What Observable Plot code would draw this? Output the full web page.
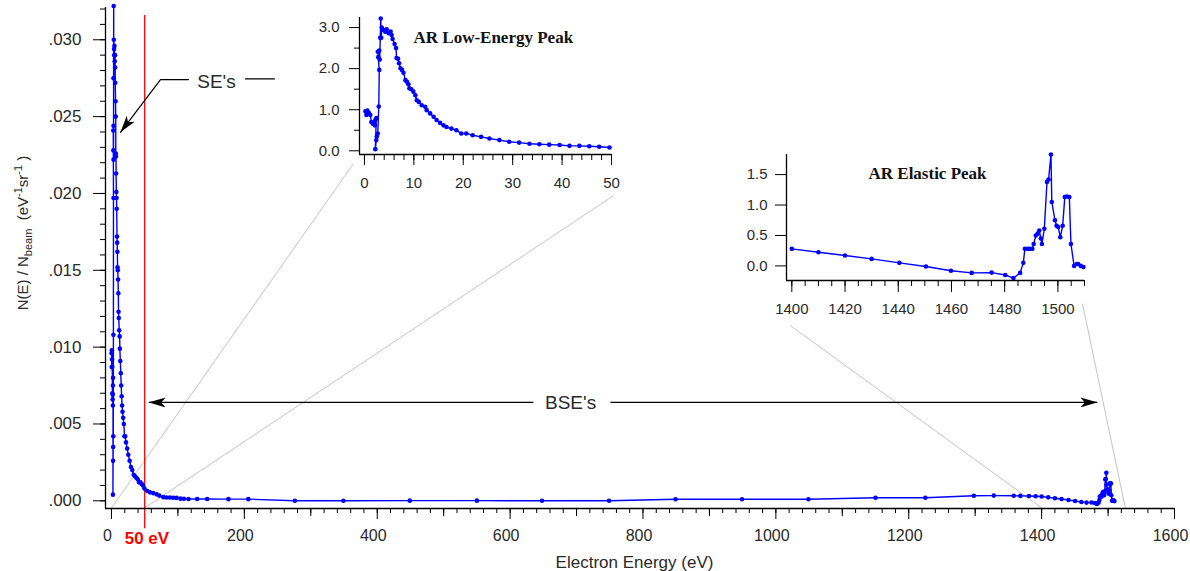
<!DOCTYPE html>
<html><head><meta charset="utf-8">
<script src="https://cdn.jsdelivr.net/npm/d3@7"></script>
<script src="https://cdn.jsdelivr.net/npm/@observablehq/plot@0.6"></script>
<style>
body{margin:0;background:#fff;}
#wrap{position:relative;width:1190px;height:571px;overflow:hidden;background:#fff;}
#wrap svg{position:absolute;}
</style></head><body><div id="wrap"></div>
<script>
// ---------- data ----------
// low-energy region (eV) and yield in units of 1e-2 eV^-1 sr^-1
const lowEnergy = [0.2,0.4,0.6,0.9,1.2,1.4,1.7,1.9,2.1,2.2,2.4,2.2,2.4,2.5,2.7,2.9,3.0,2.8,2.7,3.0,3.1,3.2,3.3,3.4,3.5,3.9,4.2,4.5,4.9,5.3,5.5,5.7,6.1,6.4,6.5,6.8,7.0,7.3,7.6,7.9,8.3,8.6,8.9,9.1,9.5,9.9,10.3,10.6,11.0,11.6,12.3,12.6,13.3,14.0,14.6,15.3,16.0,16.6,17.6,18.6,19.6,20.6,21.9,23.6,25.3,27.3,29.3,31.3,33.4,35.4,37.4,39.5,41.5,43.5,45.5,47.5,49.6];
const lowYield  = [0.96,0.87,0.98,0.92,0.87,0.70,0.66,0.69,0.62,0.75,0.80,0.04,0.26,0.35,0.42,1.08,1.97,2.28,2.41,2.44,2.22,2.75,3.22,2.75,3.00,2.94,2.90,2.96,2.86,2.90,2.82,2.72,2.60,2.50,2.26,2.24,2.13,2.01,1.97,1.90,1.72,1.68,1.62,1.52,1.50,1.44,1.35,1.23,1.19,1.11,1.07,0.99,0.91,0.83,0.75,0.68,0.62,0.58,0.54,0.50,0.42,0.42,0.38,0.34,0.30,0.26,0.22,0.20,0.17,0.16,0.15,0.14,0.12,0.12,0.11,0.10,0.08];
// backscattered region (eV) and yield in eV^-1 sr^-1
const bseEnergy = [54,58,63,68,72,78,83,88,93,98,104,109,116,129,144,176,206,276,349,449,550,648,749,849,949,1049,1150,1225,1298,1328,1358,1368,1381,1391];
const bseYield  = [0.00064,0.00055,0.00050,0.00042,0.00034,0.00024,0.00022,0.00022,0.00020,0.00019,0.00014,0.00013,0.00012,0.00012,0.00012,0.00011,0.00011,0.00000,0.00000,0.00001,0.00001,0.00000,0.00000,0.00010,0.00010,0.00010,0.00020,0.00020,0.00033,0.00034,0.00033,0.00032,0.00031,0.00030];
// elastic region (eV) and yield in units of 1e-3 eV^-1 sr^-1
const elasticEnergy = [1400,1410,1420,1430,1440.4,1450.4,1459.8,1467.6,1475.1,1480.2,1483.3,1485.8,1487,1487.6,1488.6,1489.5,1490.4,1490.9,1491.7,1492.4,1493,1493.6,1494,1494.9,1495.9,1496.5,1497.4,1497.7,1498.9,1499.5,1500.1,1500.9,1501.8,1502.6,1503.4,1504.3,1504.9,1506.1,1507.1,1507.6,1508.6,1509.6];
const elasticYield  = [0.28,0.225,0.17,0.115,0.05,-0.01,-0.08,-0.115,-0.11,-0.15,-0.2,-0.115,0.05,0.28,0.28,0.28,0.28,0.36,0.5,0.53,0.58,0.45,0.36,0.61,1.38,1.42,1.83,1.05,0.75,0.66,0.64,0.47,0.66,1.13,1.14,1.13,0.36,0.0,0.03,0.03,0.0,-0.02];

// ticks
const mainXMajor = [0,200,400,600,800,1000,1200,1400,1600];
const mainXMid = [100,300,500,700,900,1100,1300,1500];
const mainXMinor = d3.range(0, 1601, 20);
const mainYMajor = [0,0.005,0.010,0.015,0.020,0.025,0.030];
const mainYMinor = d3.range(0, 0.0325, 0.001);
const lowXMajor = [0,10,20,30,40,50];
const lowXMinor = d3.range(0, 51, 2);
const lowYMajor = [0,1,2,3];
const lowYMinor = [0.5,1.5,2.5];
const elXMajor = [1400,1420,1440,1460,1480,1500];
const elXMinor = d3.range(1400, 1511, 5);
const elYMajor = [0,0.5,1.0,1.5];

// texts and annotations
const xLabel = ["Electron Energy (eV)"];
const lowTitle = ["AR Low-Energy Peak"];
const elTitle = ["AR Elastic Peak"];
const cutoff = [{E: 50, lo: -0.00182, hi: 0.03158}];
const cutoffLabel = [{E: 53.4, N: -0.00247, t: "50 eV"}];
const seLabel = [{E: 158, N: 0.02723, t: "SE's"}];
const seArrow = [{E: 115.9, N: 0.02741}, {E: 73.8, N: 0.02741}, {E: 13.5, N: 0.02398}];
const seDash = [{E: 201.7, N: 0.02745}, {E: 245.3, N: 0.02745}];
const bseLabel = [{E: 691, N: 0.0064, t: "BSE's"}];
const bseArrows = [{x1: 635, x2: 56, y: 0.0064}, {x1: 751, x2: 1484, y: 0.0064}];
const zoomLines = [
  {x1: 0, y1: -0.00046, x2: 364.2, y2: 0.02194},
  {x1: 50, y1: -0.00046, x2: 755.6, y2: 0.019857},
  {x1: 1400, y1: -0.00046, x2: 1022, y2: 0.011393},
  {x1: 1526, y1: -0.00046, x2: 1461.5, y2: 0.012826}
];

const lowData = lowEnergy.map((E, i) => ({E, N: lowYield[i]}));
const elData = elasticEnergy.map((E, i) => ({E, N: elasticYield[i]}));
const bseData = bseEnergy.map((E, i) => ({E, N: bseYield[i]}));
const mainData = [
  ...lowData.map(d => ({E: d.E, N: d.N * 1e-2})),
  ...bseData,
  ...elData.map(d => ({E: d.E, N: d.N * 1e-3}))
];

const SANS = "'Liberation Sans', Arial, Helvetica, sans-serif";
const SERIF = "'Liberation Serif', 'Times New Roman', serif";
const BLUE = "#0000ff";
const TXT = "#2a2a2a";

const main = Plot.plot({
  width: 1190, height: 571,
  marginLeft: 105, marginRight: 16, marginTop: 7, marginBottom: 63,
  x: {domain: [-9, 1600]},
  y: {domain: [-0.0005, 0.0321]},
  style: {fontFamily: SANS, fontSize: "17px", color: TXT, background: "transparent", overflow: "visible"},
  marks: [
    Plot.link(zoomLines, {x1: "x1", y1: "y1", x2: "x2", y2: "y2", stroke: "#c4c4c4", strokeWidth: 1}),
    Plot.ruleX(cutoff, {x: "E", y1: "lo", y2: "hi", stroke: "#ff0000", strokeWidth: 1.3}),
    Plot.line(mainData, {x: "E", y: "N", stroke: BLUE, strokeWidth: 1.4}),
    Plot.dot(mainData, {x: "E", y: "N", r: 2.3, fill: BLUE}),
    Plot.ruleX([-9], {stroke: "black", strokeWidth: 1.3}),
    Plot.ruleY([-0.0005], {stroke: "black", strokeWidth: 1.3}),
    Plot.axisY({ticks: mainYMinor, tickSize: 5, fill: "none", label: null, stroke: "black"}),
    Plot.axisY({ticks: mainYMajor, tickSize: 12, tickPadding: 12, tickFormat: d => d.toFixed(3).replace(/^0/, ""), label: null, stroke: "black", fill: TXT}),
    Plot.axisX({ticks: mainXMinor, tickSize: 5, fill: "none", label: null, stroke: "black"}),
    Plot.axisX({ticks: mainXMid, tickSize: 8, fill: "none", label: null, stroke: "black"}),
    Plot.axisX({ticks: mainXMajor, tickSize: 11, fill: "none", label: null, stroke: "black"}),
    Plot.axisX({ticks: mainXMajor, tickSize: 0, tickPadding: 21, tickFormat: d3.format("d"), label: null, fill: TXT, fontSize: 16, dx: -4}),
    Plot.text(xLabel, {text: d => d, frameAnchor: "bottom", dy: 54, dx: -5.5, lineAnchor: "middle", fill: TXT}),
    Plot.text(cutoffLabel, {x: "E", y: "N", text: "t", fill: "#ff0000", fontWeight: "bold", fontSize: 17, lineAnchor: "middle"}),
    Plot.line(seDash, {x: "E", y: "N", stroke: "black", strokeWidth: 1.2}),
    Plot.line(seArrow, {x: "E", y: "N", stroke: "black", strokeWidth: 1.2, markerEnd: "arrow"}),
    Plot.text(seLabel, {x: "E", y: "N", text: "t", fontSize: 19, fill: TXT, lineAnchor: "middle"}),
    Plot.link(bseArrows, {x1: "x1", x2: "x2", y1: "y", y2: "y", stroke: "black", strokeWidth: 1.2, markerEnd: "arrow"}),
    Plot.text(bseLabel, {x: "E", y: "N", text: "t", fontSize: 19, fill: TXT, lineAnchor: "middle"})
  ]
});

// filled arrowheads
d3.select(main).selectAll("marker").each(function () {
  const m = d3.select(this);
  m.attr("viewBox", "-17 -5 17 10").attr("markerWidth", 17).attr("markerHeight", 10)
   .attr("markerUnits", "userSpaceOnUse").attr("refX", 0).attr("refY", 0)
   .attr("fill", "black").attr("stroke", "none");
  m.selectAll("*").remove();
  m.append("path").attr("d", "M0,0L-17,-5L-12.5,0L-17,5Z");
});

// y-axis label with sub/superscripts
const lab = d3.select(main).append("text")
  .attr("transform", "translate(28,233) rotate(-90)")
  .attr("text-anchor", "middle").attr("font-size", 15).attr("fill", TXT)
  .attr("font-family", SANS);
lab.append("tspan").text("N(E) / N");
lab.append("tspan").attr("dy", 4).attr("font-size", 11).text("beam");
lab.append("tspan").attr("dy", -4).text("\u00a0\u00a0(eV");
lab.append("tspan").attr("dy", -6).attr("font-size", 11).text("-1");
lab.append("tspan").attr("dy", 6).text("sr");
lab.append("tspan").attr("dy", -6).attr("font-size", 11).text("-1");
lab.append("tspan").attr("dy", 6).text("\u00a0)");

const inset1 = Plot.plot({
  width: 340, height: 200,
  marginLeft: 69, marginTop: 17, marginRight: 19, marginBottom: 46,
  x: {domain: [-1, 50]},
  y: {domain: [-0.09, 3.245]},
  style: {fontFamily: SANS, fontSize: "15px", color: TXT, background: "transparent", overflow: "visible"},
  marks: [
    Plot.line(lowData, {x: "E", y: "N", stroke: BLUE, strokeWidth: 1.4}),
    Plot.dot(lowData, {x: "E", y: "N", r: 2.3, fill: BLUE}),
    Plot.ruleX([-1], {stroke: "black", strokeWidth: 1.3}),
    Plot.ruleY([-0.09], {stroke: "black", strokeWidth: 1.3}),
    Plot.axisY({ticks: lowYMinor, tickSize: 5, fill: "none", label: null, stroke: "black"}),
    Plot.axisY({ticks: lowYMajor, tickSize: 10, tickPadding: 10, tickFormat: d => d.toFixed(1), label: null, stroke: "black", fill: TXT}),
    Plot.axisX({ticks: lowXMinor, tickSize: 6, fill: "none", label: null, stroke: "black"}),
    Plot.axisX({ticks: lowXMajor, tickSize: 11, tickPadding: 12, tickFormat: d3.format("d"), label: null, stroke: "black", fill: TXT}),
    Plot.text(lowTitle, {text: d => d, frameAnchor: "top-left", dx: 54, dy: 19.7, textAnchor: "start", lineAnchor: "middle", fontFamily: SERIF, fontWeight: "bold", fontSize: 17, fill: "#111"})
  ]
});

const inset2 = Plot.plot({
  width: 380, height: 190,
  marginLeft: 66, marginTop: 14, marginRight: 16, marginBottom: 50,
  x: {domain: [1398, 1510]},
  y: {domain: [-0.24, 1.83]},
  style: {fontFamily: SANS, fontSize: "15px", color: TXT, background: "transparent", overflow: "visible"},
  marks: [
    Plot.line(elData, {x: "E", y: "N", stroke: BLUE, strokeWidth: 1.4}),
    Plot.dot(elData, {x: "E", y: "N", r: 2.3, fill: BLUE}),
    Plot.ruleX([1398], {stroke: "black", strokeWidth: 1.3}),
    Plot.ruleY([-0.24], {stroke: "black", strokeWidth: 1.3}),
    Plot.axisY({ticks: elYMajor, tickSize: 11, tickPadding: 8, tickFormat: d => d.toFixed(1), label: null, stroke: "black", fill: TXT}),
    Plot.axisX({ticks: elXMinor, tickSize: 6, fill: "none", label: null, stroke: "black"}),
    Plot.axisX({ticks: elXMajor, tickSize: 12, tickPadding: 11, tickFormat: d3.format("d"), label: null, stroke: "black", fill: TXT}),
    Plot.text(elTitle, {text: d => d, frameAnchor: "top-left", dx: 82, dy: 19.3, textAnchor: "start", lineAnchor: "middle", fontFamily: SERIF, fontWeight: "bold", fontSize: 17, fill: "#111"})
  ]
});

const wrap = document.getElementById("wrap");
main.style.position = "absolute"; main.style.left = "0px"; main.style.top = "0px";
inset1.style.position = "absolute"; inset1.style.left = "290px"; inset1.style.top = "0px";
inset2.style.position = "absolute"; inset2.style.left = "720px"; inset2.style.top = "140px";
wrap.appendChild(main);
wrap.appendChild(inset1);
wrap.appendChild(inset2);
</script>
</body></html>
